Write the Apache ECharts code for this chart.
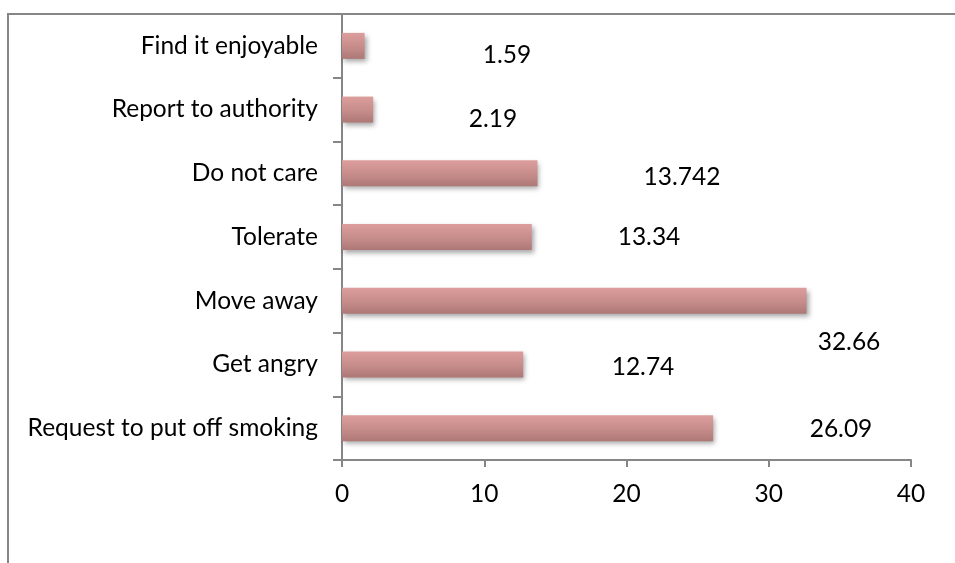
<!DOCTYPE html>
<html>
<head>
<meta charset="utf-8">
<style>
  html, body { margin: 0; padding: 0; background: #fff; }
  #chart { width: 955px; height: 563px; }
</style>
<script src="https://cdn.jsdelivr.net/npm/echarts@6/dist/echarts.min.js"></script>
</head>
<body>
<div id="chart"></div>
<script>
// Reactions to passive smoking (%), listed bottom to top
const categories = [
  'Request to put off smoking',
  'Get angry',
  'Move away',
  'Tolerate',
  'Do not care',
  'Report to authority',
  'Find it enjoyable'
];
const values = [26.09, 12.74, 32.66, 13.34, 13.742, 2.19, 1.59];
const xTicks = [0, 10, 20, 30, 40];

// Where each value label is centred, relative to the top-left of its bar (px)
const labelSpots = [[499, 14], [301, 15.5], [507, 54], [307, 13], [340, 17], [151, 22.5], [165, 22]];

const FONT = 'Lato';
const FONT_SIZE = 24.5;
const AXIS = '#868686';

const chart = echarts.init(document.getElementById('chart'), null, { renderer: 'canvas' });

chart.setOption({
  backgroundColor: '#ffffff',
  animation: false,
  grid: { left: 342, right: 44, top: 14, bottom: 103, containLabel: false },
  xAxis: {
    type: 'value',
    min: xTicks[0],
    max: xTicks[xTicks.length - 1],
    interval: 10,
    axisLine: { show: true, lineStyle: { color: AXIS, width: 2 } },
    axisTick: { show: true, length: 7, inside: false, lineStyle: { color: AXIS, width: 2 } },
    splitLine: { show: false },
    axisLabel: { color: '#000', fontFamily: FONT, fontSize: FONT_SIZE, margin: 22 }
  },
  yAxis: {
    type: 'category',
    data: categories,
    axisLine: { show: true, onZero: false, lineStyle: { color: AXIS, width: 2 } },
    axisTick: { show: true, length: 9, alignWithLabel: false, lineStyle: { color: AXIS, width: 2 } },
    axisLabel: { color: '#000', fontFamily: FONT, fontSize: FONT_SIZE, margin: 24 },
    splitLine: { show: false }
  },
  series: [{
    type: 'bar',
    barWidth: 26,
    data: values.map((v, i) => ({
      value: v,
      label: { position: labelSpots[i] }
    })),
    itemStyle: {
      color: new echarts.graphic.LinearGradient(0, 0, 0, 1, [
        { offset: 0, color: '#dc9e9c' },
        { offset: 0.5, color: '#c88e8c' },
        { offset: 1, color: '#ad7876' }
      ]),
      shadowColor: 'rgba(0,0,0,0.35)',
      shadowBlur: 5,
      shadowOffsetX: 2,
      shadowOffsetY: 3
    },
    label: {
      show: true,
      color: '#000',
      fontFamily: FONT,
      fontSize: FONT_SIZE,
      align: 'center',
      verticalAlign: 'middle',
      formatter: p => String(p.value)
    }
  }],
  graphic: [{
    type: 'polyline',
    silent: true,
    shape: { points: [[8, 563], [8, 14], [955, 14]] },
    style: { stroke: AXIS, lineWidth: 2, fill: null }
  }]
});
</script>
</body>
</html>
